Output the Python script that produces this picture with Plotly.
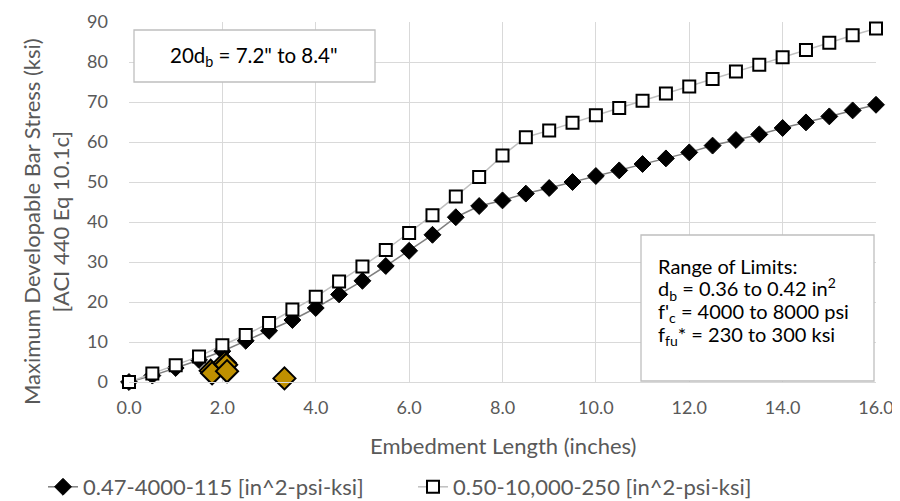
import plotly.graph_objects as go

# Embedment length (inches)
embed_len = [0.0, 0.5, 1.0, 1.5, 2.0, 2.5, 3.0, 3.5, 4.0, 4.5, 5.0, 5.5, 6.0, 6.5, 7.0, 7.5,
             8.0, 8.5, 9.0, 9.5, 10.0, 10.5, 11.0, 11.5, 12.0, 12.5, 13.0, 13.5, 14.0, 14.5,
             15.0, 15.5, 16.0]
# Series 1: 0.47-4000-115
stress_a = [0.0, 1.6, 3.5, 5.5, 7.7, 10.3, 12.8, 15.5, 18.5, 21.9, 25.3, 29.0, 32.8, 36.8,
            41.2, 44.0, 45.4, 47.1, 48.5, 50.0, 51.5, 52.9, 54.5, 55.9, 57.4, 59.1, 60.5,
            61.9, 63.5, 64.9, 66.4, 67.9, 69.3]
# Series 2: 0.50-10,000-250
stress_b = [0.0, 2.1, 4.2, 6.4, 9.2, 11.75, 14.75, 18.1, 21.3, 25.1, 28.9, 33.0, 37.25, 41.7,
            46.4, 51.25, 56.6, 61.2, 62.9, 64.8, 66.7, 68.5, 70.3, 72.1, 73.9, 75.75, 77.6,
            79.3, 81.2, 83.0, 84.8, 86.7, 88.4]
# Test points
test_x = [1.75, 1.78, 2.05, 2.08, 2.1, 3.33]
test_y = [2.8, 2.2, 4.8, 4.3, 2.7, 0.9]

name_a = "0.47-4000-115 [in^2-psi-ksi]"
name_b = "0.50-10,000-250 [in^2-psi-ksi]"
x_title = "Embedment Length (inches)"
y_title = "Maximum Developable Bar Stress (ksi)<br>[ACI 440 Eq 10.1c]"
box1_text = "20d<sub>b</sub> = 7.2\" to 8.4\""
box2_lines = ["Range of Limits:",
              "d<sub>b</sub> = 0.36 to 0.42 in<sup>2</sup>",
              "f'<sub>c</sub> = 4000 to 8000 psi",
              "f<sub>fu</sub>* = 230 to 300 ksi"]

FONT = "Lato"
TXT = "#595959"
GRID = "#d9d9d9"

# plot-area pixel frame (for placing annotations / boxes)
L, R, T, B = 121, 868, 14, 374
W, H = R - L, B - T


def px(x):
    return (x - L) / W


def py(y):
    return (B - y) / H


fig = go.Figure()
fig.add_trace(go.Scatter(
    x=embed_len, y=stress_a, mode="lines+markers", name=name_a,
    line=dict(color="#7f7f7f", width=1.5),
    marker=dict(symbol="diamond", size=13, color="black", line=dict(color="black", width=1)),
    cliponaxis=False))
fig.add_trace(go.Scatter(
    x=embed_len, y=stress_b, mode="lines+markers", name=name_b,
    line=dict(color="#bfbfbf", width=1.5),
    marker=dict(symbol="square", size=12, color="white", line=dict(color="black", width=2)),
    cliponaxis=False))
fig.add_trace(go.Scatter(
    x=test_x, y=test_y, mode="markers", showlegend=False,
    marker=dict(symbol="diamond", size=17, color="#BF9000", line=dict(color="black", width=2)),
    cliponaxis=False))

annotations = [
    dict(text=x_title, xref="paper", yref="paper",
         x=0.5, y=py(437), xanchor="center", yanchor="middle", showarrow=False,
         font=dict(family=FONT, size=22, color=TXT)),
    dict(text=y_title, xref="paper", yref="paper", x=px(38), y=py(214),
         xanchor="center", yanchor="middle", textangle=-90, showarrow=False,
         font=dict(family=FONT, size=22, color=TXT)),
    dict(text=box1_text, xref="paper", yref="paper",
         x=px(246), y=py(49), xanchor="center", yanchor="middle",
         showarrow=False, font=dict(family=FONT, size=20.5, color="black")),
]
for i, line in enumerate(box2_lines):
    annotations.append(dict(text=line, xref="paper", yref="paper", x=px(648),
                            y=py(258 + 23 * i), xanchor="left", yanchor="middle",
                            align="left", showarrow=False,
                            font=dict(family=FONT, size=20, color="black")))

fig.update_layout(
    width=900, height=501,
    margin=dict(l=L, r=900 - R, t=T, b=501 - B, autoexpand=False),
    paper_bgcolor="white", plot_bgcolor="white",
    font=dict(family=FONT, size=18, color=TXT),
    showlegend=True,
    legend=dict(orientation="h", x=px(35), xanchor="left", y=py(479), yanchor="middle",
                font=dict(family=FONT, size=22, color=TXT),
                entrywidth=325, entrywidthmode="pixels", bgcolor="rgba(0,0,0,0)"),
    xaxis=dict(range=[0, 16], dtick=2, tickformat=".1f", showgrid=True, gridcolor=GRID,
               gridwidth=1.3, zeroline=False, showline=True, linecolor=GRID, linewidth=1.3,
               ticks="", tickfont=dict(size=18, color=TXT), ticklabelstandoff=9,
               automargin=False),
    yaxis=dict(range=[0, 90], dtick=10, showgrid=True, gridcolor=GRID, gridwidth=1.3,
               zeroline=False, showline=False, ticks="",
               tickfont=dict(size=18, color=TXT), ticklabelstandoff=20, automargin=False),
    annotations=annotations,
    shapes=[
        dict(type="rect", xref="paper", yref="paper",
             x0=px(126), x1=px(367), y0=py(74), y1=py(22),
             line=dict(color="#bfbfbf", width=1.3), fillcolor="white", layer="above"),
        dict(type="rect", xref="paper", yref="paper",
             x0=px(633), x1=px(866), y0=py(373), y1=py(227),
             line=dict(color="#bfbfbf", width=1.3), fillcolor="white", layer="above"),
    ],
)

fig.write_html("out.html")
